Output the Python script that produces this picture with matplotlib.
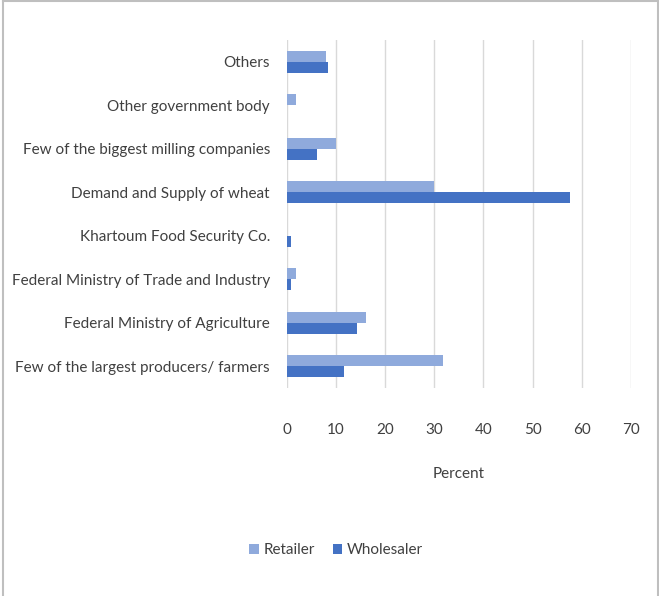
import numpy as np
import matplotlib
matplotlib.use("Agg")
import matplotlib.pyplot as plt
from matplotlib.lines import Line2D

plt.rcParams['font.family'] = ['Lato', 'DejaVu Sans']

categories = ["Few of the largest producers/ farmers",
              "Federal Ministry of Agriculture",
              "Federal Ministry of Trade and Industry",
              "Khartoum Food Security Co.",
              "Demand and Supply of wheat",
              "Few of the biggest milling companies",
              "Other government body",
              "Others"]
retailer = [31.8, 16.1, 1.9, 0, 30, 10, 1.9, 8.0]
wholesaler = [11.6, 14.2, 0.8, 0.8, 57.7, 6.1, 0, 8.5]

c_ret = "#8FAADC"
c_whl = "#4472C4"
txt = "#404040"
fs = 11

fig = plt.figure(figsize=(6.59, 5.96), dpi=100)
ax = fig.add_axes([0.435, 0.349, 0.5225, 0.584])

y = np.arange(len(categories))
h = 0.253
ax.barh(y + h / 2, retailer, height=h, color=c_ret, label="Retailer")
ax.barh(y - h / 2, wholesaler, height=h, color=c_whl, label="Wholesaler")

ax.set_xlim(0, 70)
ax.set_ylim(-0.5, len(categories) - 0.5)
ax.set_xticks(range(0, 71, 10))
ax.set_yticks(y)
ax.set_yticklabels(categories, fontsize=fs, color=txt)
ax.tick_params(axis='x', labelsize=fs, labelcolor=txt, length=0, pad=25)
ax.tick_params(axis='y', length=0, pad=12)
ax.grid(axis='x', color="#D9D9D9", lw=1)
ax.set_axisbelow(True)
for s in ax.spines.values():
    s.set_visible(False)
ax.set_xlabel("Percent", fontsize=fs, color=txt, labelpad=22)

fig.legend(loc='center', bbox_to_anchor=(0.51, 0.077), ncol=2, frameon=False,
           fontsize=fs, labelcolor=txt, handlelength=0.6, handleheight=0.6,
           handletextpad=0.3, columnspacing=1.2)

# chart frame (left, top, right edges)
for xs, ys in [([0.004, 0.004], [0, 0.998]), ([0.004, 0.998], [0.998, 0.998]),
               ([0.998, 0.998], [0, 0.998])]:
    fig.add_artist(Line2D(xs, ys, transform=fig.transFigure, color="#BFBFBF", lw=1.5))

fig.savefig("out.png", dpi=100)
